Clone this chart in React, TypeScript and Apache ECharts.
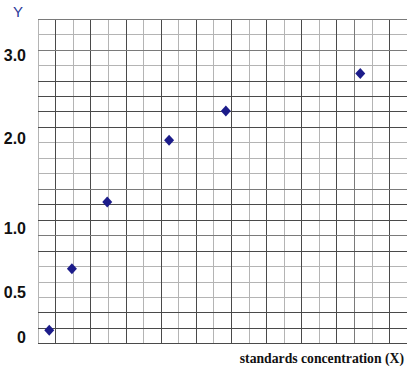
import React, { useEffect, useRef } from "react";
import * as echarts from "echarts";

// Grid units: x in small squares from the left border, y in small squares from the bottom border
const pointX = [0.64, 1.93, 3.94, 7.46, 10.69, 18.34];
const pointY = [0.86, 4.85, 9.16, 13.15, 15.05, 17.48];

// Y tick labels and where they sit (in grid units)
const yTickLabels = ["0", "0.5", "1.0", "2.0", "3.0"];
const yTickPositions = [0.41, 3.28, 7.46, 13.28, 18.67];

// Darker grid lines
const darkVertical = [1, 3, 5, 7, 9, 11, 13, 15, 17, 20];
const mediumVertical = [18];
const darkHorizontal = [0, 1, 2, 6, 8, 9, 14, 15, 16, 17];
const mediumHorizontal = [7, 10, 19, 21];

const xTitle = "standards concentration (X)";
const yTitle = "Y";

export default function App() {
  const ref = useRef<HTMLDivElement>(null);
  useEffect(() => {
    if (!ref.current) return;
    const chart = echarts.init(ref.current, undefined, { renderer: "svg" });
    const lineData = [
      ...darkVertical.map((v) => ({ xAxis: v, lineStyle: { color: "#4a4a4a" } })),
      ...mediumVertical.map((v) => ({ xAxis: v, lineStyle: { color: "#7a7a7a" } })),
      ...darkHorizontal.map((v) => ({ yAxis: v, lineStyle: { color: "#4a4a4a" } })),
      ...mediumHorizontal.map((v) => ({ yAxis: v, lineStyle: { color: "#7a7a7a" } })),
    ];
    chart.setOption({
      animation: false,
      backgroundColor: "#ffffff",
      grid: { left: 38, top: 19, width: 369.4, height: 324.6, containLabel: false },
      xAxis: {
        type: "value",
        min: 0,
        max: 21,
        interval: 1,
        axisLine: { show: false },
        axisTick: { show: false },
        axisLabel: { show: false },
        splitLine: { show: true, lineStyle: { color: "#b4b4b4", width: 1 } },
      },
      yAxis: [
        {
          type: "value",
          min: 0,
          max: 21,
          interval: 1,
          axisLine: { show: false },
          axisTick: { show: false },
          axisLabel: { show: false },
          splitLine: { show: true, lineStyle: { color: "#b4b4b4", width: 1 } },
        },
        {
          type: "value",
          position: "left",
          min: 0,
          max: 21,
          axisLine: { show: false },
          axisTick: { show: false },
          splitLine: { show: false },
          axisLabel: {
            show: true,
            customValues: yTickPositions,
            margin: 12,
            fontFamily: "Liberation Sans, Arial, sans-serif",
            fontWeight: "bold",
            fontSize: 16,
            color: "#111111",
            formatter: (val: number) => {
              let best = 0;
              for (let i = 0; i < yTickPositions.length; i++) {
                if (Math.abs(yTickPositions[i] - val) < Math.abs(yTickPositions[best] - val)) best = i;
              }
              return yTickLabels[best];
            },
          },
        },
      ],
      graphic: [
        {
          type: "text",
          left: 13,
          top: 4,
          style: {
            text: yTitle,
            fontFamily: "Liberation Sans, Arial, sans-serif",
            fontSize: 15,
            fill: "#2b3a9a",
          },
        },
        {
          type: "text",
          right: 3,
          top: 351,
          style: {
            text: xTitle,
            fontFamily: "Liberation Serif, Times New Roman, serif",
            fontWeight: "bold",
            fontSize: 13.7,
            fill: "#111111",
          },
        },
      ],
      series: [
        {
          type: "scatter",
          data: [],
          z: 1,
          silent: true,
          markLine: {
            silent: true,
            symbol: ["none", "none"],
            label: { show: false },
            lineStyle: { type: "solid", width: 1 },
            data: lineData,
          },
        },
        {
          type: "scatter",
          z: 5,
          symbol: "diamond",
          symbolSize: [10, 11],
          itemStyle: { color: "#1c1c8a", opacity: 1 },
          data: pointX.map((x, i) => [x, pointY[i]]),
        },
      ],
    });
    return () => chart.dispose();
  }, []);
  return (
    <div
      ref={ref}
      style={{ position: "fixed", left: 0, top: 0, width: 407, height: 374 }}
    />
  );
}
